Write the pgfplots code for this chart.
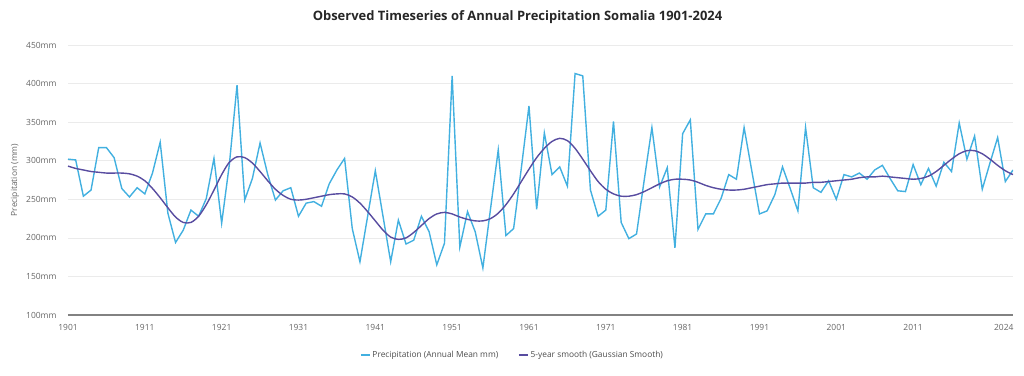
\documentclass[border=0pt]{standalone}
\usepackage{pgfplots}
\pgfplotsset{compat=1.18}
\usepackage{pgfplotstable}
\usepackage{fontspec}
\setmainfont{Open Sans}
\definecolor{precipcol}{RGB}{66,176,224}
\definecolor{smoothcol}{RGB}{88,76,160}
\definecolor{tickgray}{RGB}{102,102,102}
\definecolor{gridgray}{RGB}{235,235,235}
\definecolor{axisgray}{RGB}{130,130,130}
\pgfplotstableread{
year val
1901 302
1902 301
1903 254
1904 262
1905 317
1906 317
1907 304
1908 264
1909 253
1910 265
1911 257
1912 284
1913 324
1914 232
1915 194
1916 210
1917 236
1918 228
1919 251
1920 303
1921 219
1922 295
1923 398
1924 249
1925 277
1926 323
1927 282
1928 249
1929 261
1930 265
1931 228
1932 245
1933 247
1934 241
1935 270
1936 288
1937 303
1938 212
1939 169
1940 228
1941 287
1942 228
1943 169
1944 223
1945 192
1946 197
1947 228
1948 208
1949 165
1950 193
1951 410
1952 188
1953 234
1954 208
1955 161
1956 238
1957 314
1958 203
1959 212
1960 290
1961 371
1962 237
1963 336
1964 282
1965 292
1966 267
1967 413
1968 410
1969 262
1970 228
1971 236
1972 351
1973 220
1974 199
1975 205
1976 275
1977 343
1978 266
1979 291
1980 187
1981 335
1982 353
1983 211
1984 231
1985 231
1986 251
1987 282
1988 276
1989 343
1990 287
1991 231
1992 235
1993 256
1994 292
1995 264
1996 235
1997 343
1998 265
1999 259
2000 274
2001 250
2002 282
2003 279
2004 284
2005 276
2006 288
2007 294
2008 277
2009 261
2010 260
2011 295
2012 269
2013 290
2014 267
2015 298
2016 286
2017 349
2018 302
2019 332
2020 263
2021 297
2022 330
2023 273
2024 288
}\precipdata
\pgfplotstableread{
year val
1901 293
1902 290
1903 288
1904 286
1905 285
1906 284
1907 284
1908 284
1909 283
1910 280
1911 274
1912 264
1913 252
1914 239
1915 227
1916 220
1917 220
1918 228
1919 243
1920 262
1921 282
1922 298
1923 305
1924 304
1925 297
1926 286
1927 274
1928 263
1929 255
1930 250
1931 249
1932 250
1933 252
1934 254
1935 256
1936 257
1937 257
1938 253
1939 245
1940 234
1941 222
1942 210
1943 201
1944 198
1945 200
1946 207
1947 216
1948 225
1949 231
1950 233
1951 231
1952 227
1953 224
1954 222
1955 222
1956 225
1957 232
1958 243
1959 257
1960 273
1961 289
1962 304
1963 316
1964 325
1965 329
1966 326
1967 316
1968 302
1969 287
1970 273
1971 263
1972 257
1973 254
1974 254
1975 256
1976 260
1977 265
1978 270
1979 274
1980 276
1981 276
1982 275
1983 272
1984 268
1985 265
1986 263
1987 262
1988 262
1989 263
1990 265
1991 267
1992 269
1993 270
1994 271
1995 271
1996 271
1997 271
1998 272
1999 272
2000 273
2001 274
2002 275
2003 276
2004 278
2005 279
2006 279
2007 280
2008 279
2009 278
2010 277
2011 276
2012 277
2013 280
2014 286
2015 294
2016 302
2017 309
2018 313
2019 313
2020 309
2021 302
2022 294
2023 287
2024 282
}\smoothdata
\begin{document}
\begin{tikzpicture}
\path[use as bounding box] (-68bp,-61bp) rectangle (956bp,315bp);
\begin{axis}[
  at={(0,0)}, anchor=south west,
  scale only axis, width=945bp, height=270bp,
  xmin=1901, xmax=2024, ymin=100, ymax=450,
  xtick={1901,1911,1921,1931,1941,1951,1961,1971,1981,1991,2001,2011},
  extra x ticks={2024},
  extra x tick style={xticklabel style={anchor=north east, xshift=4bp}, grid=none},
  ytick={100,150,...,450},
  yticklabel={\pgfmathprintnumber{\tick}mm},
  /pgf/number format/assume math mode=true,
  /pgf/number format/set thousands separator={},
  xticklabel style={font=\fontsize{8.5}{10}\selectfont, text=tickgray, yshift=-6bp},
  yticklabel style={font=\fontsize{8.5}{10}\selectfont, text=tickgray, xshift=-8bp},
  axis x line*=bottom, axis y line*=left,
  y axis line style={draw=none},
  x axis line style={draw=axisgray, line width=1.1bp},
  major tick length=0pt,
  ymajorgrids, xmajorgrids=false,
  grid style={gridgray, line width=0.7bp},
  title={\fontsize{13}{15}\selectfont\bfseries Observed Timeseries of Annual Precipitation Somalia 1901-2024},
  title style={at={(axis description cs:0.5,1)}, anchor=center, yshift=22bp, xshift=-23bp, text=black!85},
  ylabel={Precipitation (mm)},
  every axis y label/.style={at={(axis description cs:0,0.5)}, xshift=-53bp, rotate=90, anchor=center, font=\fontsize{8.5}{10}\selectfont, text=tickgray},
  legend style={at={(axis description cs:0.5,0)}, yshift=-40bp, xshift=-28bp, anchor=center, draw=none, fill=none, font=\fontsize{8.4}{10}\selectfont, text=black!70, legend columns=2, /tikz/every even column/.append style={column sep=18bp}},
  legend image code/.code={\draw[#1] (0bp,0bp) -- (9bp,0bp);},
]
\addplot[precipcol, line width=1.4bp, no marks] table[x=year,y=val] {\precipdata};
\addlegendentry{Precipitation (Annual Mean mm)}
\addplot[smoothcol, line width=1.4bp, no marks, smooth] table[x=year,y=val] {\smoothdata};
\addlegendentry{5-year smooth (Gaussian Smooth)}
\end{axis}
\end{tikzpicture}
\end{document}
